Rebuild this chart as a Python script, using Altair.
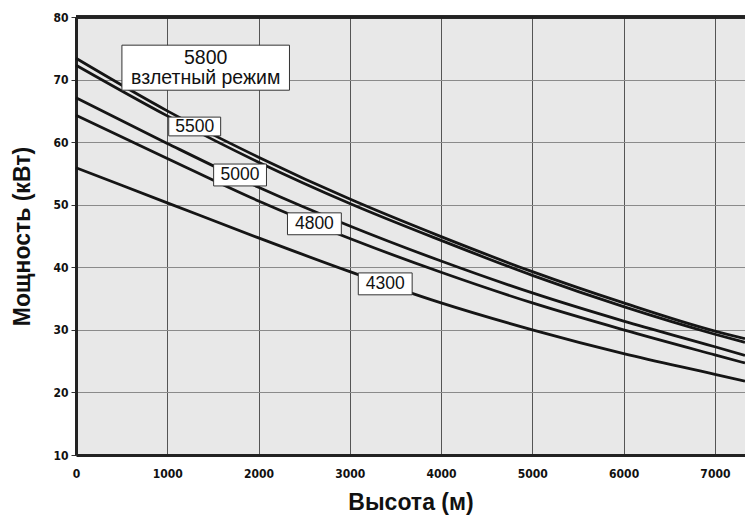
import altair as alt
import pandas as pd

altitude = [0, 1000, 2000, 3000, 4000, 5000, 6000, 7000, 7330]
p5800 = [73.4, 65.0, 57.6, 50.9, 44.9, 39.3, 34.3, 29.8, 28.6]
p5500 = [72.3, 64.2, 56.8, 50.2, 44.3, 38.7, 33.7, 29.3, 28.0]
p5000 = [67.1, 59.8, 52.8, 46.6, 41.0, 35.9, 31.4, 27.3, 25.9]
p4800 = [64.3, 57.4, 50.6, 44.6, 39.2, 34.3, 30.0, 26.0, 24.7]
p4300 = [55.9, 50.3, 44.7, 39.3, 34.3, 30.0, 26.2, 22.9, 21.8]

series = {"5800": p5800, "5500": p5500, "5000": p5000, "4800": p4800, "4300": p4300}

label_text = ["5800\nвзлетный режим", "5500", "5000", "4800", "4300"]
label_x = [1421, 1300, 1797, 2612, 3388]
label_y = [73.45, 62.5, 54.75, 46.95, 37.35]
box_x1 = [503, 1016, 1508, 2317, 3093]
box_x2 = [2339, 1585, 2087, 2907, 3683]
box_y1 = [68.3, 61.0, 53.0, 45.2, 35.6]
box_y2 = [75.5, 64.0, 56.5, 48.7, 39.1]

rows = []
for name, vals in series.items():
    for a, v in zip(altitude, vals):
        rows.append({"rpm": name, "alt": a, "p": v})
df = pd.DataFrame(rows)

labels = pd.DataFrame({"text": label_text, "x": label_x, "y": label_y,
                       "x1": box_x1, "x2": box_x2, "y1": box_y1, "y2": box_y2})

xscale = alt.Scale(domain=[0, 7330], nice=False, zero=False)
yscale = alt.Scale(domain=[10, 80], nice=False, zero=False)

tick_font = "DejaVu Sans Condensed, Liberation Sans, sans-serif"

xaxis = alt.Axis(values=[0, 1000, 2000, 3000, 4000, 5000, 6000, 7000], format="d",
                 title="Высота (м)", titleFont="Liberation Sans", titleFontSize=23,
                 titleFontWeight="bold", titleColor="#111", titleY=54, titleBaseline="alphabetic",
                 labelFont=tick_font, labelFontSize=12, labelFontWeight="bold", labelColor="#111",
                 labelPadding=13, domainColor="#222", domainWidth=3, tickSize=0,
                 grid=True, gridColor="#555", gridWidth=1, labelFlush=False)
yaxis = alt.Axis(values=[10, 20, 30, 40, 50, 60, 70, 80],
                 title="Мощность (кВт)", titleFont="Liberation Sans", titleFontSize=23,
                 titleFontWeight="bold", titleColor="#111", titleX=-54, titleY=219,
                 titleAngle=270, titleAlign="center", titleBaseline="middle",
                 labelFont=tick_font, labelFontSize=12, labelFontWeight="bold", labelColor="#111",
                 labelPadding=3, domainColor="#222", domainWidth=3, tickSize=5,
                 tickColor="#333", grid=True, gridColor="#8a8a8a", gridWidth=1.2)

lines = alt.Chart(df).mark_line(color="#151515", strokeWidth=2.8, interpolate="monotone").encode(
    x=alt.X("alt:Q", scale=xscale, axis=xaxis),
    y=alt.Y("p:Q", scale=yscale, axis=yaxis),
    detail="rpm:N",
)

top_border = alt.Chart(labels).mark_rule(color="#222", strokeWidth=3).encode(
    x=alt.value(0), x2=alt.value(669), y=alt.value(0)
)

boxes = alt.Chart(labels).mark_rect(fill="white", stroke="#333", strokeWidth=1).encode(
    x=alt.X("x1:Q", scale=xscale), x2="x2:Q",
    y=alt.Y("y1:Q", scale=yscale), y2="y2:Q",
)

text_enc = dict(x=alt.X("x:Q", scale=xscale), y=alt.Y("y:Q", scale=yscale), text="text:N")

texts_main = alt.Chart(labels).transform_filter("indexof(datum.text, '\\n') >= 0").mark_text(
    font="Liberation Sans", fontSize=19.5, color="#111",
    lineBreak="\n", lineHeight=20, baseline="middle").encode(**text_enc)

texts_small = alt.Chart(labels).transform_filter("indexof(datum.text, '\\n') < 0").mark_text(
    font="Liberation Sans", fontSize=17.5, color="#111", baseline="middle").encode(**text_enc)

chart = alt.layer(lines, boxes, texts_main, texts_small, top_border).properties(
    width=669, height=438,
    autosize=alt.AutoSizeParams(type="none"),
    padding={"left": 76, "top": 17, "right": 0, "bottom": 62},
    background="white",
).configure_view(fill="#e8e8e8", stroke=None)

chart.save("out.html", embed_options={"renderer": "svg", "actions": False})
